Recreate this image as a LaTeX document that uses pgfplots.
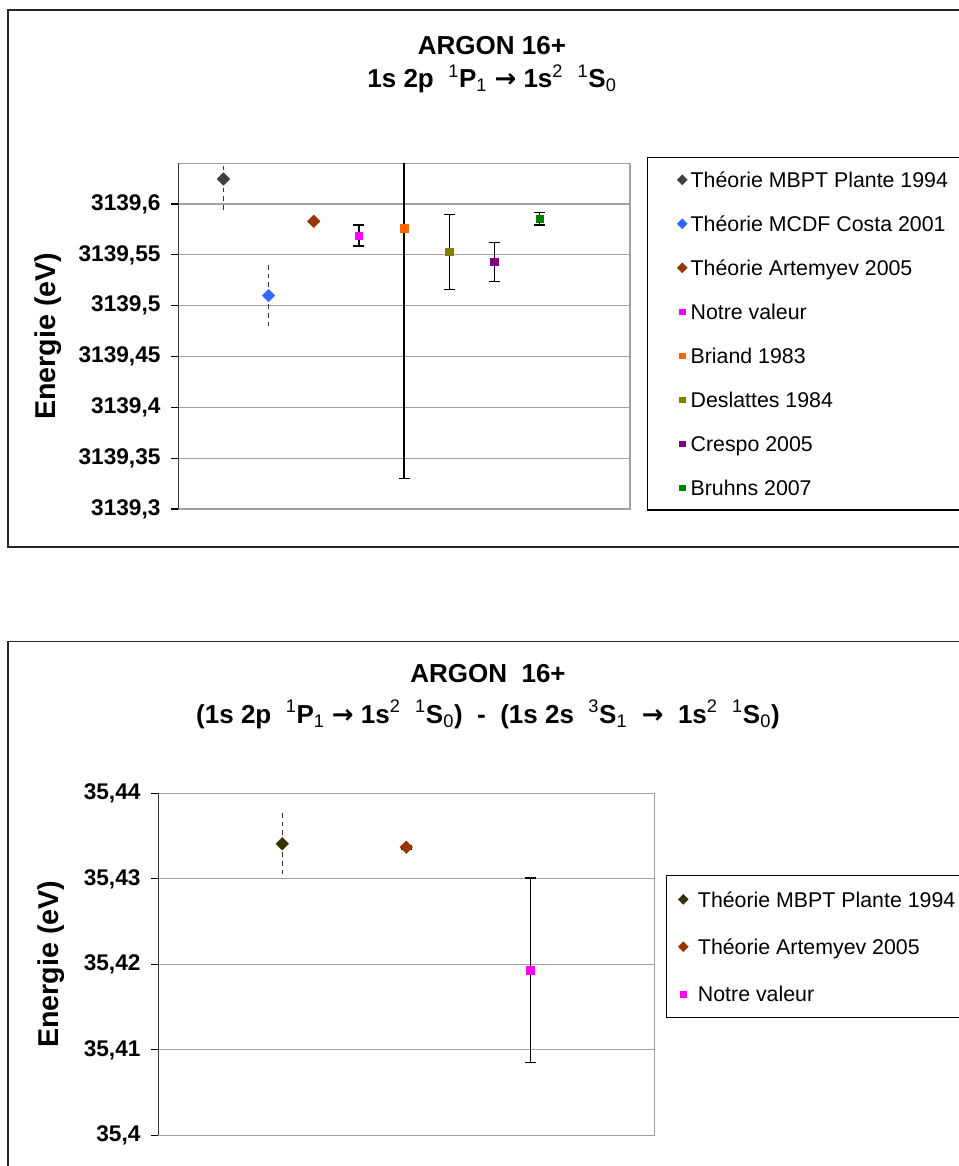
\documentclass[border=0pt]{standalone}
\usepackage{fontspec}
\setmainfont{Liberation Sans}
\newfontfamily\dejavu{DejaVu Sans}
\usepackage{pgfplots}
\pgfplotsset{compat=1.18}

\definecolor{cPlante}{HTML}{404040}
\definecolor{cPlanteB}{HTML}{333300}
\definecolor{cCosta}{HTML}{3366FF}
\definecolor{cArt}{HTML}{993300}
\definecolor{cNotre}{HTML}{FF00FF}
\definecolor{cBriand}{HTML}{FF6600}
\definecolor{cDes}{HTML}{808000}
\definecolor{cCres}{HTML}{800080}
\definecolor{cBru}{HTML}{008000}
\definecolor{gridgray}{HTML}{A0A0A0}

\newcommand{\arr}{{\dejavu\bfseries →}}
\newcommand{\supr}[1]{\textsuperscript{\mdseries #1}}
\newcommand{\subr}[1]{\textsubscript{\mdseries #1}}

\pgfplotsset{
  diam/.style={only marks, mark=square*, mark size=3.3pt, mark options={rotate=45, solid, line width=0.4pt}, legend image post style={mark size=2.6pt}},
  sq/.style={only marks, mark=square*, mark size=2.8pt, mark options={solid, line width=0.4pt}, legend image post style={mark size=2.2pt}},
  solidbar/.style={/pgfplots/error bars/y dir=both, /pgfplots/error bars/y explicit,
     /pgfplots/error bars/error bar style={black, line width=1pt, solid},
     /pgfplots/error bars/error mark=-,
     /pgfplots/error bars/error mark options={black, rotate=90, mark size=4.1pt, line width=1pt, solid}},
  dashbar/.style={/pgfplots/error bars/y dir=both, /pgfplots/error bars/y explicit,
     /pgfplots/error bars/error bar style={black!80, line width=1.1pt, dash pattern=on 3.5pt off 3pt},
     /pgfplots/error bars/error mark=none},
  common/.style={
    scale only axis, anchor=north west,
    axis line style={gridgray, line width=0.9pt},
    ymajorgrids, grid style={gridgray, line width=0.9pt},
    xtick=\empty, ytick pos=left, tick align=outside, major tick length=5.3pt,
    ytick style={black, line width=0.9pt},
    scaled y ticks=false,
    yticklabel style={font=\bfseries\fontsize{17}{20}\selectfont, xshift=-4.5pt, /pgf/number format/fixed, /pgf/number format/precision=2, /pgf/number format/use comma, /pgf/number format/1000 sep={}, /pgf/number format/assume math mode=true},
    every axis y label/.style={rotate=90, anchor=center, font=\bfseries\fontsize{21.5}{25}\selectfont},
    legend cell align=left,
    legend image code/.code={\draw[##1] plot coordinates {(0pt,0pt)};},
  },
}

\begin{document}
\begin{tikzpicture}
\useasboundingbox (0,0) rectangle (718.5pt,-874.5pt);
\begin{scope}[x=0.75pt,y=-0.75pt]
\draw[line width=1.1pt, black!85] (975,10) -- (8,10) -- (8,547) -- (975,547);
\draw[line width=1.1pt, black!85] (975,641.7) -- (8,641.7) -- (8,1180);
\node[anchor=base, font=\bfseries\fontsize{19.5}{23}\selectfont] at (492,55) {ARGON 16+};
\node[anchor=base, font=\bfseries\fontsize{19.5}{23}\selectfont] at (492,87.5) {1s 2p\ \ \supr{1}P\subr{1} \arr{} 1s\supr{2}\ \ \supr{1}S\subr{0}};
\node[anchor=base, font=\bfseries\fontsize{19.5}{23}\selectfont] at (488,682) {ARGON\ \ 16+};
\node[anchor=base, font=\bfseries\fontsize{19.5}{23}\selectfont] at (488,723) {(1s 2p\ \ \supr{1}P\subr{1} \arr{} 1s\supr{2}\ \ \supr{1}S\subr{0})\ \ -\ \ (1s 2s\ \ \supr{3}S\subr{1}\ \ \arr\ \ 1s\supr{2}\ \ \supr{1}S\subr{0})};
\end{scope}

% ---------- top chart ----------
\begin{axis}[common, at={(133.7pt,-122.5pt)}, width=338.8pt, height=259.3pt,
  xmin=0, xmax=10, ymin=3139.3, ymax=3139.64,
  ytick={3139.3,3139.35,3139.4,3139.45,3139.5,3139.55,3139.6},
  ylabel={Energie (eV)},
  every axis y label/.append style={at={(axis description cs:-0.2885,0.5)}},
  legend style={at={(1.0377,1.0182)}, anchor=north west, draw=black, line width=0.9pt,
    font=\fontsize{16}{19}\selectfont, inner xsep=22.3pt, inner ysep=9.2pt, row sep=18.2pt,
    nodes={inner sep=0pt}, /tikz/every odd column/.append style={column sep=2.6pt}},
]
\addplot[diam, color=cPlante, dashbar] coordinates {(1,3139.6246) +- (0,0.034)};
\addlegendentry{\strut Théorie MBPT Plante 1994\hspace*{40pt}}
\addplot[diam, color=cCosta, dashbar] coordinates {(2,3139.510) +- (0,0.034)};
\addlegendentry{\strut Théorie MCDF Costa 2001}
\addplot[diam, color=cArt, solidbar] coordinates {(3,3139.583) +- (0,0.0008)};
\addlegendentry{\strut Théorie Artemyev 2005}
\addplot[sq, color=cNotre, solidbar] coordinates {(4,3139.569) +- (0,0.0105)};
\addlegendentry{\strut Notre valeur}
\addplot[sq, color=cBriand, solidbar] coordinates {(5,3139.576) +- (0,0.246)};
\addlegendentry{\strut Briand 1983}
\addplot[sq, color=cDes, solidbar] coordinates {(6,3139.553) +- (0,0.037)};
\addlegendentry{\strut Deslattes 1984}
\addplot[sq, color=cCres, solidbar] coordinates {(7,3139.543) +- (0,0.0195)};
\addlegendentry{\strut Crespo 2005}
\addplot[sq, color=cBru, solidbar] coordinates {(8,3139.5855) +- (0,0.0063)};
\addlegendentry{\strut\rule[-11pt]{0pt}{11pt}Bruhns 2007}
\draw[black, line width=0.9pt] (rel axis cs:0,0) -- (rel axis cs:0,1);
\end{axis}

% ---------- bottom chart ----------
\begin{axis}[common, at={(118.7pt,-595pt)}, width=372pt, height=256.5pt,
  xmin=0, xmax=4, ymin=35.4, ymax=35.44,
  ytick={35.4,35.41,35.42,35.43,35.44},
  ylabel={Energie (eV)},
  every axis y label/.append style={at={(axis description cs:-0.2163,0.5)}},
  legend style={at={(1.0236,0.761)}, anchor=north west, draw=black, line width=0.9pt,
    font=\fontsize{16}{19}\selectfont, inner xsep=8.85pt, inner ysep=10.4pt, row sep=20.7pt,
    nodes={inner sep=0pt}, /tikz/every odd column/.append style={column sep=7.35pt}},
]
\addplot[diam, color=cPlanteB, dashbar] coordinates {(1,35.4341) +- (0,0.0038)};
\addlegendentry{\strut Théorie MBPT Plante 1994\hspace*{40pt}}
\addplot[diam, color=cArt, solidbar] coordinates {(2,35.4337) +- (0,0.0002)};
\addlegendentry{\strut Théorie Artemyev 2005}
\addplot[sq, color=cNotre, solidbar] coordinates {(3,35.4193) +- (0,0.0108)};
\addlegendentry{\strut\rule[-10.2pt]{0pt}{10pt}Notre valeur}
\draw[black, line width=0.9pt] (rel axis cs:0,0) -- (rel axis cs:0,1);
\end{axis}
\end{tikzpicture}
\end{document}
